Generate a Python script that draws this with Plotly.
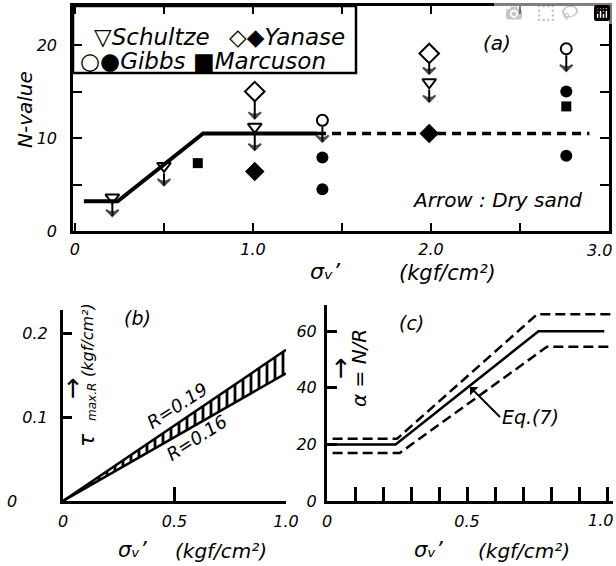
import plotly.graph_objects as go

# ---------------- data ----------------
# panel (a): N-value vs sigma_v'
schultze_x = [0.21, 0.50, 1.01, 1.99]
schultze_y = [3.6, 7.0, 11.2, 16.0]
yanase_open_x = [1.01, 1.99]
yanase_open_y = [15.0, 19.1]
yanase_fill_x = [1.01, 1.99]
yanase_fill_y = [6.4, 10.5]
gibbs_open_x = [1.39, 2.76]
gibbs_open_y = [11.9, 19.6]
gibbs_fill_x = [1.39, 1.39, 2.76, 2.76]
gibbs_fill_y = [7.9, 4.5, 15.0, 8.1]
marcuson_x = [0.69, 2.76]
marcuson_y = [7.3, 13.4]
trend_solid_x = [0.05, 0.24, 0.72, 1.36]
trend_solid_y = [3.2, 3.2, 10.5, 10.5]
trend_dash_x = [1.36, 2.89]
trend_dash_y = [10.5, 10.5]
# "Dry sand" arrows: stem start (just below the open marker) and tip
arrow_x = [0.21, 0.50, 1.01, 1.01, 1.39, 1.99, 1.99, 2.76]
arrow_from = [2.9, 6.2, 14.1, 10.4, 11.2, 18.2, 15.2, 18.9]
arrow_to = [1.6, 4.9, 12.1, 8.7, 9.6, 16.9, 13.9, 17.2]
a_xticks = [0, 1.0, 2.0]
a_xlabels = ["0", "1.0", "2.0"]
a_xlast = "3.0"            # right-most label, drawn inside the page
a_yticks = [0, 10, 20]
a_ylabels = ["0", "10", "20"]

# panel (b): tau_max.R vs sigma_v'
sigma_b = [0, 1.0]
tau_r019 = [0, 0.18]
tau_r016 = [0, 0.152]
b_xticks = [0, 0.5, 1.0]
b_xlabels = ["0", "0.5", "1.0"]
b_yticks = [0.1, 0.2]
b_ylabels = ["0.1", "0.2"]

# panel (c): alpha = N/R vs sigma_v'
c_mid_x = [0.01, 0.245, 0.755, 0.99]
c_mid_y = [20, 20, 60, 60]
c_up_x = [0.02, 0.25, 0.75, 1.02]
c_up_y = [22, 22, 66, 66]
c_lo_x = [0.02, 0.26, 0.785, 1.02]
c_lo_y = [17, 17, 54.5, 54.5]
c_xticks = [0, 0.5]
c_xlabels = ["0", "0.5"]
c_xlast = "1.0"            # right-most label, drawn inside the page
c_yticks = [0, 20, 40, 60]
c_ylabels = ["0", "20", "40", "60"]

# ---------------- figure ----------------
W, H = 616, 566
FONT = "DejaVu Sans"
BLACK = "black"


def X(px):
    return px / W


def Y(py):
    return 1 - py / H


fig = go.Figure()

# ---- panel (a)
fig.add_trace(go.Scatter(x=trend_solid_x, y=trend_solid_y, mode="lines",
                         line=dict(color=BLACK, width=4), xaxis="x", yaxis="y"))
fig.add_trace(go.Scatter(x=trend_dash_x, y=trend_dash_y, mode="lines",
                         line=dict(color=BLACK, width=3.5, dash="9px,6px"), xaxis="x", yaxis="y"))

# arrows (stem + head) built from the arrow arrays
ax_pts, ay_pts, a_sym, a_size = [], [], [], []
for xa, yf, yt in zip(arrow_x, arrow_from, arrow_to):
    ax_pts += [xa, xa, None]
    ay_pts += [yf, yt, None]
    a_sym += ["circle", "arrow-wide-open", "circle"]
    a_size += [0, 9, 0]
fig.add_trace(go.Scatter(x=ax_pts, y=ay_pts, mode="lines+markers",
                         line=dict(color=BLACK, width=2),
                         marker=dict(symbol=a_sym, size=a_size, angleref="previous",
                                     color=BLACK, line=dict(width=2, color=BLACK)),
                         xaxis="x", yaxis="y"))

fig.add_trace(go.Scatter(x=schultze_x, y=schultze_y, mode="markers",
                         marker=dict(symbol="triangle-down-open", size=12, color=BLACK,
                                     line=dict(width=2, color=BLACK)), xaxis="x", yaxis="y"))
fig.add_trace(go.Scatter(x=yanase_open_x, y=yanase_open_y, mode="markers",
                         marker=dict(symbol="diamond-open", size=15, color=BLACK,
                                     line=dict(width=2, color=BLACK)), xaxis="x", yaxis="y"))
fig.add_trace(go.Scatter(x=yanase_fill_x, y=yanase_fill_y, mode="markers",
                         marker=dict(symbol="diamond", size=15, color=BLACK), xaxis="x", yaxis="y"))
fig.add_trace(go.Scatter(x=gibbs_open_x, y=gibbs_open_y, mode="markers",
                         marker=dict(symbol="circle-open", size=11, color=BLACK,
                                     line=dict(width=2, color=BLACK)), xaxis="x", yaxis="y"))
fig.add_trace(go.Scatter(x=gibbs_fill_x, y=gibbs_fill_y, mode="markers",
                         marker=dict(symbol="circle", size=12, color=BLACK), xaxis="x", yaxis="y"))
fig.add_trace(go.Scatter(x=marcuson_x, y=marcuson_y, mode="markers",
                         marker=dict(symbol="square", size=10, color=BLACK), xaxis="x", yaxis="y"))

# ---- panel (b)
fig.add_trace(go.Scatter(x=sigma_b, y=tau_r016, mode="lines",
                         line=dict(color=BLACK, width=2.5), xaxis="x2", yaxis="y2"))
fig.add_trace(go.Scatter(x=sigma_b, y=tau_r019, mode="lines",
                         line=dict(color=BLACK, width=2.5), fill="tonexty",
                         fillcolor="rgba(0,0,0,0)",
                         fillpattern=dict(shape="|", size=8, solidity=0.35,
                                          fgcolor=BLACK, bgcolor="white"),
                         xaxis="x2", yaxis="y2"))

# ---- panel (c)
fig.add_trace(go.Scatter(x=c_up_x, y=c_up_y, mode="lines",
                         line=dict(color=BLACK, width=2.5, dash="10px,5px"), xaxis="x3", yaxis="y3"))
fig.add_trace(go.Scatter(x=c_mid_x, y=c_mid_y, mode="lines",
                         line=dict(color=BLACK, width=2.5), xaxis="x3", yaxis="y3"))
fig.add_trace(go.Scatter(x=c_lo_x, y=c_lo_y, mode="lines",
                         line=dict(color=BLACK, width=2.5, dash="10px,5px"), xaxis="x3", yaxis="y3"))

tickfont = dict(family=FONT, size=16, color=BLACK, style="italic")

axis_common = dict(showgrid=False, zeroline=False, linecolor=BLACK, tickcolor=BLACK,
                   ticks="inside", tickfont=tickfont, fixedrange=True, automargin=False,
                   ticklabeloverflow="allow")

fig.update_layout(
    template="none",
    width=W, height=H, margin=dict(l=0, r=0, t=0, b=0, pad=0),
    paper_bgcolor="white", plot_bgcolor="white", showlegend=False,
    xaxis=dict(domain=[X(73), X(609)], range=[-0.011, 3.0], anchor="y",
               tickvals=a_xticks, ticktext=a_xlabels, ticklen=8, tickwidth=2,
               minor=dict(dtick=0.5, tick0=0, ticks="inside", ticklen=8, tickwidth=2,
                          tickcolor=BLACK),
               showline=True, linewidth=2.5, mirror="ticks", ticklabelstandoff=2,
               **axis_common),
    yaxis=dict(domain=[Y(231), Y(6)], range=[0, 24.2], anchor="x",
               tickvals=a_yticks, ticktext=a_ylabels, ticklen=9, tickwidth=2,
               minor=dict(dtick=5, tick0=0, ticks="inside", ticklen=9, tickwidth=2,
                          tickcolor=BLACK),
               showline=True, linewidth=2.5, mirror="ticks", ticklabelstandoff=10,
               **axis_common),
    xaxis2=dict(domain=[X(63), X(286)], range=[0, 1.0], anchor="y2",
                tickvals=b_xticks, ticktext=b_xlabels, ticklen=14, tickwidth=2.5,
                showline=True, linewidth=3, ticklabelstandoff=4,
                **axis_common),
    yaxis2=dict(domain=[Y(501), Y(310)], range=[0, 0.2274], anchor="x2",
                tickvals=b_yticks, ticktext=b_ylabels, ticklen=9, tickwidth=2.5,
                showline=True, linewidth=3, ticklabelstandoff=9,
                **axis_common),
    xaxis3=dict(domain=[X(327), X(613)], range=[0, 1.021], anchor="y3",
                tickvals=c_xticks, ticktext=c_xlabels, ticklen=14, tickwidth=2.5,
                minor=dict(dtick=0.1, tick0=0, ticks="inside", ticklen=14, tickwidth=2.5,
                           tickcolor=BLACK),
                showline=True, linewidth=3, ticklabelstandoff=4,
                **axis_common),
    yaxis3=dict(domain=[Y(501), Y(305)], range=[0, 69.3], anchor="x3",
                tickvals=c_yticks, ticktext=c_ylabels, ticklen=10, tickwidth=2.5,
                showline=True, linewidth=3, ticklabelstandoff=4,
                **axis_common),
)

# legend box of panel (a)
fig.add_shape(type="rect", xref="paper", yref="paper",
              x0=X(73), x1=X(356), y0=Y(73), y1=Y(6),
              line=dict(color=BLACK, width=2.5), fillcolor="rgba(0,0,0,0)")

annotations = []


def txt(text, px, py, size=18, angle=0, xanchor="center"):
    annotations.append(dict(text=text, x=X(px), y=Y(py), xref="paper", yref="paper",
                            showarrow=False, textangle=angle, xanchor=xanchor,
                            yanchor="middle", borderpad=0,
                            font=dict(family=FONT, size=size, color=BLACK, style="italic")))


# right-most tick labels kept inside the page
txt(a_xlast, 599, 250, size=16)
txt(c_xlast, 600, 520, size=16)

# legend texts
txt("▽Schultze", 93, 37, size=23, xanchor="left")
txt("◇◆Yanase", 228, 37, size=23, xanchor="left")
txt("○●Gibbs", 79, 61, size=23, xanchor="left")
txt("■Marcuson", 192, 61, size=23, xanchor="left")

# panel (a) texts
txt("(a)", 497, 43, size=20)
txt("Arrow : Dry sand", 497, 200, size=20)
txt("N-value", 25, 110, size=20, angle=-90)
txt("σᵥ’", 325, 271, size=22)
txt("(kgf/cm²)", 447, 273, size=21)

# panel (b) texts
txt("(b)", 137, 318, size=19)
txt("0", 12, 501, size=16)
txt("R=0.19", 177, 405, size=18, angle=-33)
txt("R=0.16", 197, 438, size=18, angle=-33)
txt("τ", 86, 440, size=22, angle=-90)
txt("max.R", 92, 402, size=12, angle=-90)
txt("(kgf/cm²)", 87, 340, size=16, angle=-90)
txt("→", 72, 388, size=26, angle=-90)
txt("σᵥ’", 132, 550, size=21)
txt("(kgf/cm²)", 221, 551, size=20)

# panel (c) texts
txt("(c)", 412, 323, size=19)
txt("α = N/R", 359, 368, size=20, angle=-90)
txt("→", 340, 368, size=26, angle=-90)
txt("σᵥ’", 428, 550, size=21)
txt("(kgf/cm²)", 524, 551, size=20)

# Eq.(7) label with its pointer to the middle curve
annotations.append(dict(text="Eq.(7)", x=X(470), y=Y(387), xref="paper", yref="paper",
                        ax=30, ay=30, axref="pixel", ayref="pixel", showarrow=True,
                        xanchor="left", yanchor="middle",
                        arrowhead=1, arrowsize=1, arrowwidth=2, arrowcolor=BLACK,
                        font=dict(family=FONT, size=19, color=BLACK, style="italic")))

fig.update_layout(annotations=annotations)

# remove the browser's default page margin so the 616x566 figure fills the window
fig.write_html("out.html",
               post_script="document.body.style.margin='0';"
                           "document.body.style.overflow='hidden';")
